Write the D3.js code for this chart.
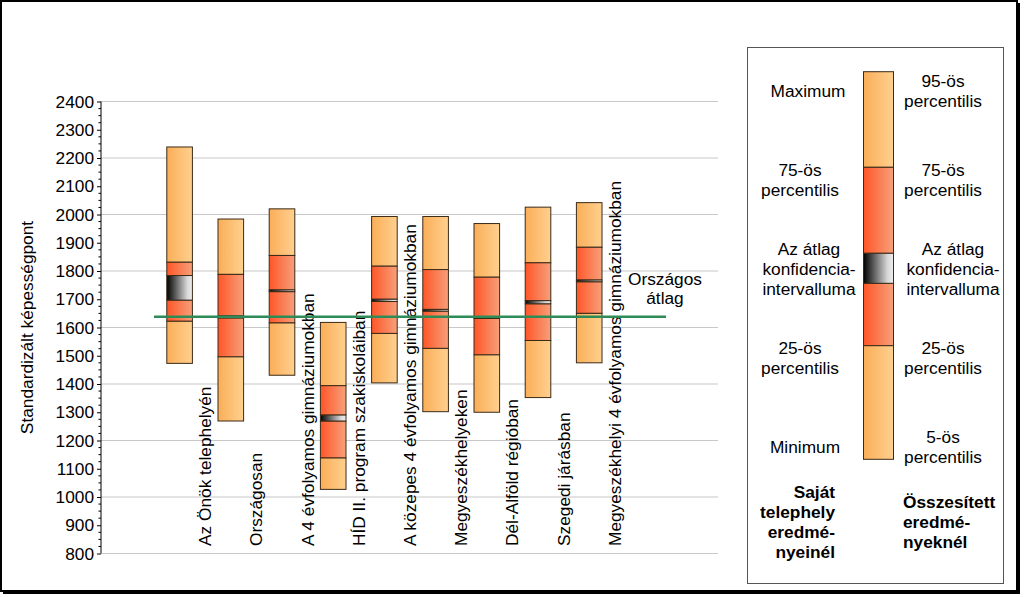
<!DOCTYPE html>
<html>
<head>
<meta charset="utf-8">
<script src="https://cdn.jsdelivr.net/npm/d3@7/dist/d3.min.js"></script>
<style>
html,body{margin:0;padding:0;background:#fff;}
svg{display:block;font-family:Arial,"Liberation Sans",sans-serif;}
</style>
</head>
<body>
<svg id="chart" width="1024" height="597"></svg>
<script>
// ---- data ----
const categories = ["Az Önök telephelyén","Országosan","A 4 évfolyamos gimnáziumokban","HÍD II. program szakiskoláiban","A közepes 4 évfolyamos gimnáziumokban","Megyeszékhelyeken","Dél-Alföld régióban","Szegedi járásban","Megyeszékhelyi 4 évfolyamos gimnáziumokban"];
const topVals  = [2239, 1984, 2020, 1618, 1993, 1993, 1968, 2026, 2042];
const p75Vals  = [1831, 1788, 1855, 1394, 1817, 1805, 1778, 1829, 1884];
const ciHigh   = [1784, 1641, 1733, 1290, 1700, 1664, 1638, 1695, 1768];
const ciLow    = [1697, 1634, 1727, 1269, 1692, 1658, 1632, 1684, 1762];
const p25Vals  = [1622, 1496, 1616, 1138, 1579, 1526, 1503, 1554, 1650];
const botVals  = [1473, 1269, 1431, 1027, 1404, 1302, 1300, 1352, 1475];
const nationalAvg = 1638;
const yTicks = [800,900,1000,1100,1200,1300,1400,1500,1600,1700,1800,1900,2000,2100,2200,2300,2400];
const gridVals = [800,1000,1200,1400,1600,1800,2000,2200,2400];
const yTitle = "Standardizált képességpont";
const avgLabel = ["Országos","átlag"];

const svg = d3.select("#chart");
const defs = svg.append("defs");
function grad(id, stops){
  const g = defs.append("linearGradient").attr("id",id).attr("x1","0%").attr("x2","100%").attr("y1","0%").attr("y2","0%");
  stops.forEach(s=>g.append("stop").attr("offset",s[0]).attr("stop-color",s[1]));
}
grad("gLight",[["0%","#FAAE58"],["100%","#FFD08F"]]);
grad("gDark",[["0%","#FF5628"],["100%","#F6A07A"]]);
grad("gCI",[["0%","#000000"],["80%","#D8D8D8"],["100%","#EEEEEE"]]);

// outer frame
svg.append("rect").attr("x",1).attr("y",1).attr("width",1016).attr("height",590)
  .attr("fill","none").attr("stroke","#000").attr("stroke-width",2);
svg.append("line").attr("x1",1018.5).attr("x2",1018.5).attr("y1",3).attr("y2",593).attr("stroke","#000").attr("stroke-width",3);
svg.append("line").attr("x1",3).attr("x2",1020).attr("y1",592.5).attr("y2",592.5).attr("stroke","#000").attr("stroke-width",3);

// scales
const y = d3.scaleLinear().domain([800,2400]).range([553.5,101.5]);
const x = d3.scaleBand().domain(categories).range([154,614.8]).padding(0);
const step = x.step();
const bw = step*0.5;
const plotLeft = 101, plotRight = 718;

// gridlines
svg.append("g").selectAll("line").data(gridVals).join("line")
  .attr("x1",plotLeft).attr("x2",plotRight)
  .attr("y1",d=>y(d)).attr("y2",d=>y(d))
  .attr("stroke","#C8C8C8").attr("stroke-width",1.2);

// y axis
const axis = d3.axisLeft(y).tickValues(yTicks).tickSize(4).tickPadding(3).tickFormat(d3.format("d"));
const ag = svg.append("g").attr("transform",`translate(${plotLeft},0)`).call(axis);
ag.select(".domain").attr("stroke","#000").attr("d",`M0,${y(800)}V${y(2400)}`);
ag.selectAll(".tick line").attr("stroke","#000");
ag.selectAll(".tick text").attr("font-size","17.3px").attr("fill","#000").attr("font-family","Arial,'Liberation Sans',sans-serif");
// minor ticks
const minor = d3.range(800,2401,25).filter(v=>v%100!==0);
svg.append("g").selectAll("line").data(minor).join("line")
  .attr("x1",plotLeft-2.5).attr("x2",plotLeft).attr("y1",d=>y(d)).attr("y2",d=>y(d))
  .attr("stroke","#000").attr("stroke-width",1);

// y title
svg.append("text").attr("transform",`translate(27,${(y(800)+y(2400))/2}) rotate(-90)`)
  .attr("text-anchor","middle").attr("dy","0.35em").attr("font-size","17.3px").text(yTitle);

// boxes
const segs = [];
categories.forEach((c,i)=>{
  segs.push({c, a:topVals[i], b:p75Vals[i], f:"url(#gLight)"});
  segs.push({c, a:p75Vals[i], b:ciHigh[i], f:"url(#gDark)"});
  segs.push({c, a:ciLow[i], b:p25Vals[i], f:"url(#gDark)"});
  segs.push({c, a:p25Vals[i], b:botVals[i], f:"url(#gLight)"});
  segs.push({c, a:ciHigh[i], b:ciLow[i], f:"url(#gCI)"});
});
svg.append("g").selectAll("rect").data(segs).join("rect")
  .attr("x",d=>x(d.c)+step/2-bw/2).attr("width",bw)
  .attr("y",d=>y(d.a)).attr("height",d=>Math.max(0.5,y(d.b)-y(d.a)))
  .attr("fill",d=>d.f).attr("stroke","#3A2A18").attr("stroke-width",1);

// category labels
svg.append("g").selectAll("text").data(categories).join("text")
  .attr("transform",d=>`translate(${x(d)+step},546) rotate(-90)`)
  .attr("dy","0.35em").attr("text-anchor","start").attr("font-size","17.3px").text(d=>d);

// national average line
const last = categories[categories.length-1];
svg.append("line").attr("x1",x(categories[0])).attr("x2",x(last)+2*step)
  .attr("y1",y(nationalAvg)).attr("y2",y(nationalAvg))
  .attr("stroke","#2E8B57").attr("stroke-width",2.5);
svg.append("g").selectAll("text").data(avgLabel).join("text")
  .attr("x",665).attr("y",(d,i)=>285+i*19).attr("text-anchor","middle")
  .attr("font-size","17.3px").text(d=>d);

// legend
svg.append("rect").attr("x",747.5).attr("y",47.5).attr("width",256).attr("height",536)
  .attr("fill","#fff").attr("stroke","#555").attr("stroke-width",1);
const lg = [
  {a:71.7,b:167.3,f:"url(#gLight)"},
  {a:167.3,b:253.3,f:"url(#gDark)"},
  {a:283.3,b:345.7,f:"url(#gDark)"},
  {a:345.7,b:459.3,f:"url(#gLight)"},
  {a:253.3,b:283.3,f:"url(#gCI)"}
];
svg.append("g").selectAll("rect").data(lg).join("rect")
  .attr("x",863.5).attr("width",30).attr("y",d=>d.a).attr("height",d=>d.b-d.a)
  .attr("fill",d=>d.f).attr("stroke","#3A2A18").attr("stroke-width",1);

const legLeft = [
  {t:"Maximum",x:808,y:96.7},
  {t:"75-ös",x:800,y:175.7},{t:"percentilis",x:800,y:196},
  {t:"Az átlag",x:809,y:255},{t:"konfidencia-",x:809,y:274.8},{t:"intervalluma",x:809,y:295},
  {t:"25-ös",x:800,y:354},{t:"percentilis",x:800,y:374},
  {t:"Minimum",x:805,y:453.3}
];
const legRight = [
  {t:"95-ös",x:943,y:86.7},{t:"percentilis",x:943,y:106.7},
  {t:"75-ös",x:943,y:175.7},{t:"percentilis",x:943,y:196},
  {t:"Az átlag",x:953,y:255},{t:"konfidencia-",x:953,y:274.8},{t:"intervalluma",x:953,y:295},
  {t:"25-ös",x:943,y:354},{t:"percentilis",x:943,y:374},
  {t:"5-ös",x:943,y:443.3},{t:"percentilis",x:943,y:463.3}
];
svg.append("g").selectAll("text").data(legLeft.concat(legRight)).join("text")
  .attr("x",d=>d.x).attr("y",d=>d.y).attr("text-anchor","middle").attr("font-size","17.3px").text(d=>d.t);

const boldLeft = ["Saját","telephely","eredmé-","nyeinél"];
const boldRight = ["Összesített","eredmé-","nyeknél"];
svg.append("g").selectAll("text").data(boldLeft).join("text")
  .attr("x",835).attr("y",(d,i)=>497.7+i*20.2).attr("text-anchor","end")
  .attr("font-size","17.3px").attr("font-weight","bold").text(d=>d);
svg.append("g").selectAll("text").data(boldRight).join("text")
  .attr("x",903).attr("y",(d,i)=>508.3+i*20).attr("text-anchor","start")
  .attr("font-size","17.3px").attr("font-weight","bold").text(d=>d);
</script>
</body>
</html>
